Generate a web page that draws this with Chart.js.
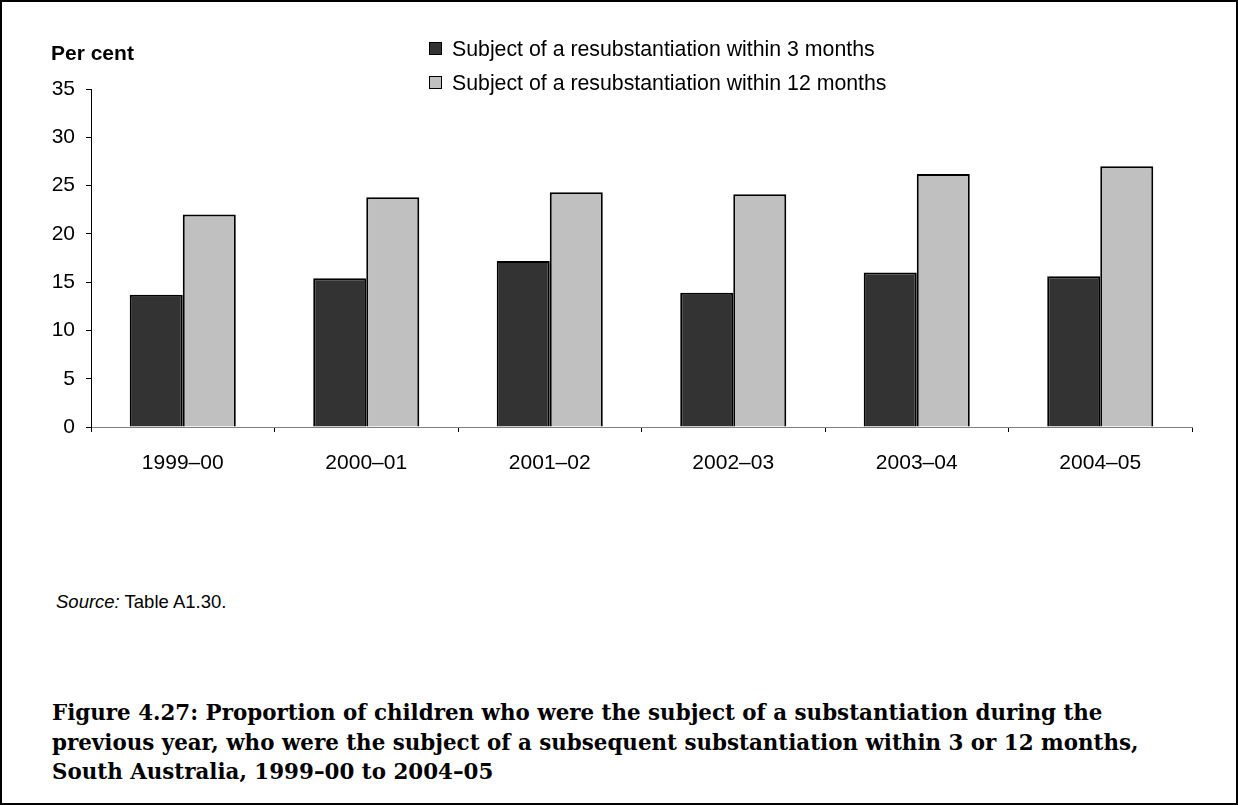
<!DOCTYPE html>
<html>
<head>
<meta charset="utf-8">
<script src="https://cdn.jsdelivr.net/npm/chart.js@4.4.1/dist/chart.umd.min.js"></script>
<style>
  html, body { margin: 0; padding: 0; background: #fff; }
  #frame {
    position: relative; width: 1238px; height: 805px;
    box-sizing: border-box; border: 2px solid #000; overflow: hidden;
    font-family: "Liberation Sans", Arial, sans-serif; color: #000;
  }
  #chartBox { position: absolute; left: -2px; top: -2px; width: 1238px; height: 500px; }
  #unit { position: absolute; left: 49px; top: 39px; font-weight: bold; font-size: 21px; }
  #legend { position: absolute; left: 427px; top: 35px; font-size: 21.3px; }
  .item { position: relative; height: 34px; line-height: 25px; padding-left: 23px; white-space: nowrap; }
  .swatch { position: absolute; left: 0; top: 5px; width: 11px; height: 11px; border: 1px solid #000; }
  #source { position: absolute; left: 54px; top: 589px; font-size: 18.5px; }
  #caption {
    position: absolute; left: 50px; top: 696px;
    font-family: "DejaVu Serif", serif; font-weight: bold; font-size: 21.4px; line-height: 29.5px;
    white-space: nowrap;
  }
</style>
</head>
<body>
<div id="frame">
  <div id="chartBox"><canvas id="myChart" width="1238" height="500"></canvas></div>
  <div id="unit">Per cent</div>
  <div id="legend"></div>
  <div id="source"><i>Source:</i> Table A1.30.</div>
  <div id="caption">Figure 4.27: Proportion of children who were the subject of a substantiation during the<br>previous year, who were the subject of a subsequent substantiation within 3 or 12 months,<br>South Australia, 1999–00 to 2004–05</div>
</div>
<script>
const years = ["1999–00", "2000–01", "2001–02", "2002–03", "2003–04", "2004–05"];
const seriesNames = [
  "Subject of a resubstantiation within 3 months",
  "Subject of a resubstantiation within 12 months",
];
const within3 = [13.7, 15.4, 17.2, 13.9, 16.0, 15.6];
const within12 = [22.0, 23.8, 24.3, 24.1, 26.2, 27.0];
const colors = ["#333333", "#c0c0c0"];

const tickFont = { family: "'Liberation Sans', Arial, sans-serif", size: 21 };

const ctx = document.getElementById("myChart").getContext("2d");
const myChart = new Chart(ctx, {
  type: "bar",
  data: {
    labels: years,
    datasets: [
      {
        label: seriesNames[0],
        data: within3,
        backgroundColor: colors[0],
        borderColor: "#000",
        borderWidth: 2,
      },
      {
        label: seriesNames[1],
        data: within12,
        backgroundColor: colors[1],
        borderColor: "#000",
        borderWidth: 2,
      },
    ],
  },
  options: {
    responsive: false,
    animation: false,
    events: [],
    categoryPercentage: 0.578,
    barPercentage: 1.0,
    layout: { padding: { top: 89, right: 46, left: 0, bottom: 0 } },
    plugins: {
      legend: { display: false },
      tooltip: { enabled: false },
    },
    scales: {
      x: {
        grid: { drawOnChartArea: false, drawTicks: true, tickLength: 5, color: "#000" },
        border: { display: true, color: "#808080", width: 1 },
        ticks: { color: "#000", font: tickFont, padding: 19, maxRotation: 0 },
        afterFit: (scale) => { scale.height = 73; },
      },
      y: {
        min: 0,
        max: 35,
        grid: { drawOnChartArea: false, drawTicks: true, tickLength: 5, color: "#000" },
        border: { display: true, color: "#000", width: 1 },
        ticks: { stepSize: 5, color: "#000", font: tickFont, padding: 11 },
        afterFit: (scale) => { scale.width = 91; },
      },
    },
  },
});

// legend built from the datasets
const legendEl = document.getElementById("legend");
myChart.data.datasets.forEach((ds) => {
  const row = document.createElement("div");
  row.className = "item";
  const sw = document.createElement("span");
  sw.className = "swatch";
  sw.style.background = ds.backgroundColor;
  row.appendChild(sw);
  row.appendChild(document.createTextNode(ds.label));
  legendEl.appendChild(row);
});
</script>
</body>
</html>
